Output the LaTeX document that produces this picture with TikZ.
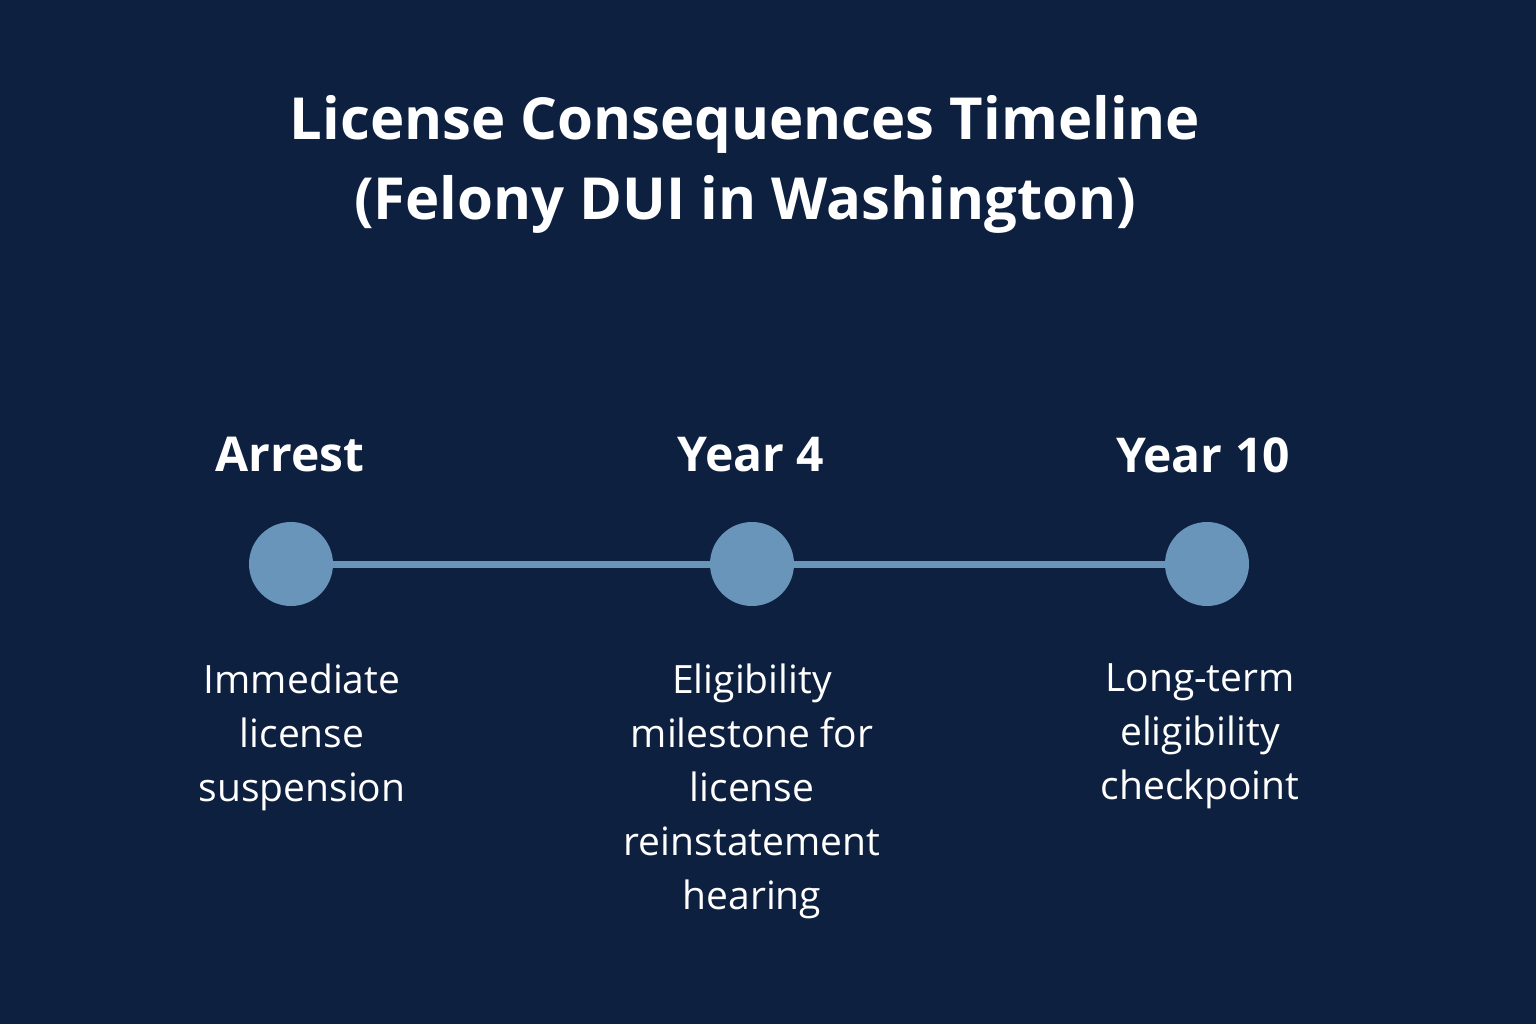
\documentclass[tikz,border=0pt]{standalone}
\usepackage{fontspec}
\setmainfont{Open Sans}
\definecolor{bg}{HTML}{0E2040}
\definecolor{dot}{HTML}{6A95BA}
\begin{document}
\begin{tikzpicture}[x=1pt,y=-1pt,
  dotn/.style={circle,fill=dot,minimum size=84pt,inner sep=0pt},
  yr/.style={text=white,font=\fontsize{48}{54}\selectfont\bfseries},
  desc/.style={text=white,align=center,font=\fontsize{39}{54}\selectfont}]
\fill[bg] (0,0) rectangle (1536,1024);
\useasboundingbox (0,0) rectangle (1536,1024);
\node[text=white,align=center,font=\fontsize{58}{80}\selectfont\bfseries] (title) at (745,164) {License Consequences Timeline\\(Felony DUI in Washington)};
\node[dotn] (a) at (291,564) {};
\node[dotn] (b) at (752,564) {};
\node[dotn] (c) at (1207,564) {};
\draw[dot,line width=7pt] (a) -- (b) -- (c);
\node[yr] (ya) at (290,455) {Arrest};
\node[yr] (yb) at (751,455) {Year 4};
\node[yr] (yc) at (1203,455) {Year 10};
\node[desc,anchor=north] (da) at (302,660) {Immediate\\license\\suspension};
\node[desc,anchor=north] (db) at (752,660) {Eligibility\\milestone for\\license\\reinstatement\\hearing};
\node[desc,anchor=north] (dc) at (1200,660) {Long-term\\eligibility\\checkpoint};
\end{tikzpicture}
\end{document}
